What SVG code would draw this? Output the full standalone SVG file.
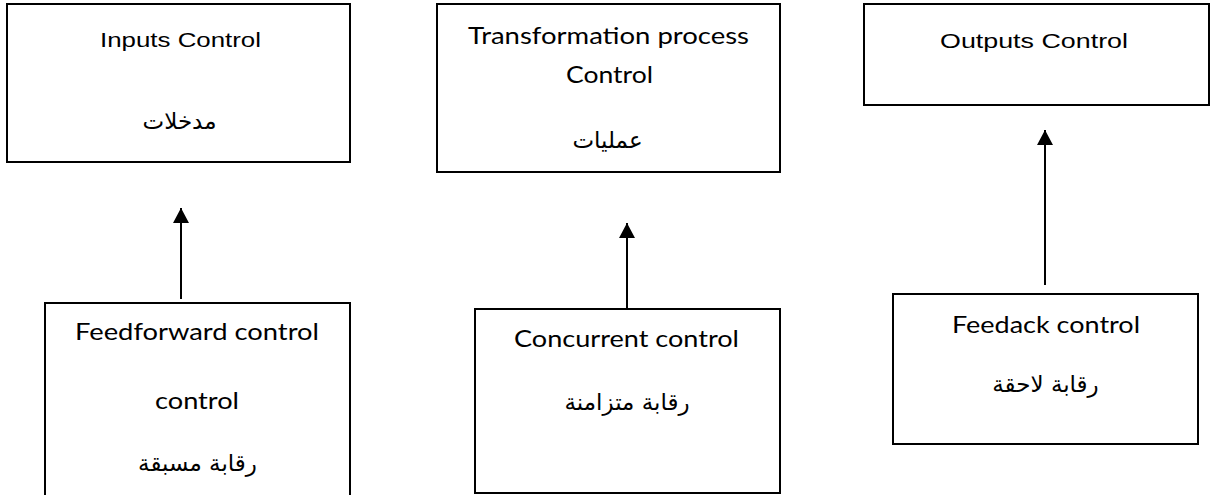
<svg xmlns="http://www.w3.org/2000/svg" width="1211" height="495" viewBox="0 0 1211 495">
  <style>
    .box { fill: #ffffff; stroke: #000000; stroke-width: 2; }
    .en { font-family: "Liberation Sans", Arial, sans-serif; font-size: 20px; fill: #000; text-anchor: middle; }
    .cal { font-family: Lato, "Open Sans", sans-serif; font-size: 23px; fill: #000; text-anchor: middle; }
    .ar { font-family: "DejaVu Sans", "Noto Sans", sans-serif; font-size: 23px; fill: #000; text-anchor: middle; }
    .conn { stroke: #000; stroke-width: 2; fill: none; }
  </style>
  <defs>
    <marker id="arrow" markerUnits="userSpaceOnUse" markerWidth="18" markerHeight="18" refX="15" refY="8" orient="auto">
      <path d="M0,0 L15,8 L0,16 z" fill="#000"/>
    </marker>
  </defs>
  <rect x="0" y="0" width="1211" height="495" fill="#ffffff"/>

  <g id="inputs-control">
    <rect class="box" x="7" y="4" width="343" height="158"/>
    <text class="en" x="180.5" y="47" textLength="161" lengthAdjust="spacingAndGlyphs">Inputs  Control</text>
    <text class="ar" x="179.5" y="129">مدخلات</text>
  </g>

  <g id="transformation-control">
    <rect class="box" x="437" y="4" width="343" height="168"/>
    <text class="cal" x="608.5" y="44" textLength="281" lengthAdjust="spacingAndGlyphs">Transformation process</text>
    <text class="cal" x="609.5" y="83" textLength="87" lengthAdjust="spacingAndGlyphs">Control</text>
    <text class="ar" x="607.5" y="148">عمليات</text>
  </g>

  <g id="outputs-control">
    <rect class="box" x="864" y="4" width="345" height="101"/>
    <text class="en" x="1034" y="48" textLength="188" lengthAdjust="spacingAndGlyphs">Outputs  Control</text>
  </g>

  <g id="feedforward-control">
    <rect class="box" x="45" y="303" width="305" height="210"/>
    <text class="cal" x="197" y="340" textLength="244" lengthAdjust="spacingAndGlyphs">Feedforward control</text>
    <text class="cal" x="197" y="409" textLength="84" lengthAdjust="spacingAndGlyphs">control</text>
    <text class="ar" x="197.5" y="471">رقابة مسبقة</text>
  </g>

  <g id="concurrent-control">
    <rect class="box" x="475" y="309" width="305" height="184"/>
    <text class="cal" x="626.5" y="347" textLength="225" lengthAdjust="spacingAndGlyphs">Concurrent control</text>
    <text class="ar" x="627" y="410">رقابة متزامنة</text>
  </g>

  <g id="feedback-control">
    <rect class="box" x="893" y="294" width="305" height="150"/>
    <text class="cal" x="1046" y="333" textLength="188" lengthAdjust="spacingAndGlyphs">Feedack control</text>
    <text class="ar" x="1045.5" y="392">رقابة لاحقة</text>
  </g>

  <g id="connectors">
    <line class="conn" x1="181" y1="299" x2="181" y2="208" marker-end="url(#arrow)"/>
    <line class="conn" x1="627" y1="308" x2="627" y2="223" marker-end="url(#arrow)"/>
    <line class="conn" x1="1045" y1="285" x2="1045" y2="130" marker-end="url(#arrow)"/>
  </g>
</svg>
